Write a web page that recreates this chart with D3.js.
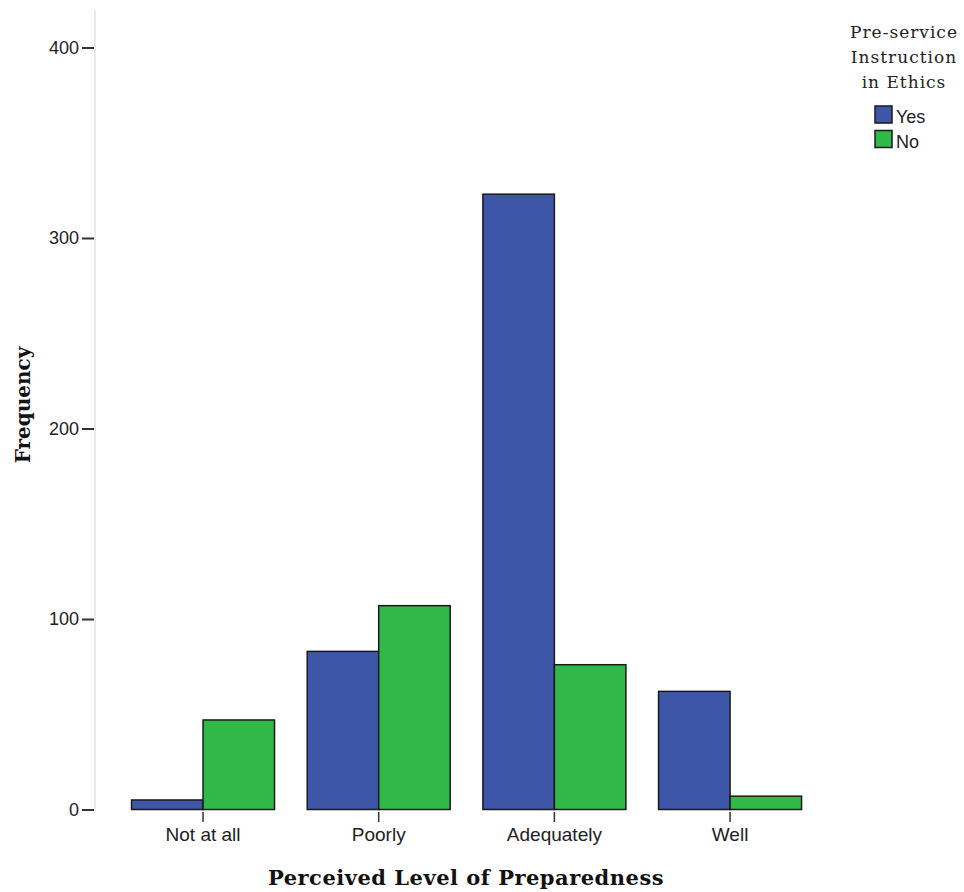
<!DOCTYPE html>
<html>
<head>
<meta charset="utf-8">
<script src="https://cdn.jsdelivr.net/npm/d3@7/dist/d3.min.js"></script>
<style>
  html, body { margin: 0; padding: 0; background: #fff; }
  svg { display: block; }
</style>
</head>
<body>
<svg id="chart" width="964" height="892"></svg>
<script>
const categories = ["Not at all", "Poorly", "Adequately", "Well"];
const seriesNames = ["Yes", "No"];
const yesValues = [5, 83, 323, 62];
const noValues = [47, 107, 76, 7];
const yTicks = [0, 100, 200, 300, 400];
const colors = ["#3d56a8", "#30b848"];
const titleX = "Perceived Level of Preparedness";
const titleY = "Frequency";
const legendTitle = ["Pre-service", "Instruction", "in Ethics"];

const svg = d3.select("#chart");
const y = d3.scaleLinear().domain([0, 400]).range([809.5, 47.5]);
const x = d3.scaleBand().domain(categories).range([115.2, 817.9]).paddingInner(0.186).paddingOuter(0.093);
const xs = d3.scaleBand().domain(seriesNames).range([0, x.bandwidth()]);
const color = d3.scaleOrdinal().domain(seriesNames).range(colors);

const data = categories.map((c, i) => ({ cat: c, vals: [
  { s: "Yes", v: yesValues[i] }, { s: "No", v: noValues[i] }] }));

// y axis line
svg.append("line").attr("x1", 95).attr("x2", 95).attr("y1", 10).attr("y2", 810)
  .attr("stroke", "#e2e2e2").attr("stroke-width", 1.5);

// y axis ticks + labels
const yAxis = d3.axisLeft(y).tickValues(yTicks).tickSize(12).tickPadding(3).tickFormat(d3.format("d"));
const gy = svg.append("g").attr("transform", "translate(94,0)").call(yAxis);
gy.select(".domain").remove();
gy.selectAll(".tick line").attr("stroke", "#333").attr("stroke-width", 2);
gy.selectAll(".tick text").attr("font-family", "'Liberation Sans', Arial, sans-serif")
  .attr("font-size", 18).attr("fill", "#222");

// bars
const groups = svg.append("g").selectAll("g").data(data).join("g")
  .attr("transform", d => `translate(${x(d.cat)},0)`);
groups.selectAll("rect").data(d => d.vals).join("rect")
  .attr("x", d => xs(d.s))
  .attr("width", xs.bandwidth())
  .attr("y", d => y(d.v))
  .attr("height", d => y(0) - y(d.v))
  .attr("fill", d => color(d.s))
  .attr("stroke", "#1a1a1a").attr("stroke-width", 1.5);

// x axis ticks + labels
const xAxis = d3.axisBottom(x).tickSize(10).tickPadding(6);
const gx = svg.append("g").attr("transform", "translate(0,812)").call(xAxis);
gx.select(".domain").remove();
gx.selectAll(".tick line").attr("stroke", "#333").attr("stroke-width", 1.5);
gx.selectAll(".tick text").attr("font-family", "'Liberation Sans', Arial, sans-serif")
  .attr("font-size", 19).attr("fill", "#222");

// axis titles
svg.append("text").attr("x", 466).attr("y", 885).attr("text-anchor", "middle")
  .attr("font-family", "'DejaVu Serif', serif").attr("font-weight", "bold").attr("font-size", 21)
  .attr("letter-spacing", 0.5).attr("fill", "#111").text(titleX);
svg.append("text").attr("transform", "translate(30,405) rotate(-90)").attr("text-anchor", "middle")
  .attr("font-family", "'DejaVu Serif', serif").attr("font-weight", "bold").attr("font-size", 20)
  .attr("fill", "#111").text(titleY);

// legend
const lg = svg.append("g");
lg.selectAll("text.lt").data(legendTitle).join("text").attr("class", "lt")
  .attr("x", 904).attr("y", (d, i) => 38 + i * 25).attr("text-anchor", "middle")
  .attr("font-family", "'DejaVu Serif', serif").attr("font-size", 17).attr("letter-spacing", 1)
  .attr("fill", "#222")
  .text(d => d);
const items = lg.selectAll("g.item").data(seriesNames).join("g").attr("class", "item")
  .attr("transform", (d, i) => `translate(875,${106 + i * 24.5})`);
items.append("rect").attr("width", 17).attr("height", 17)
  .attr("fill", d => color(d)).attr("stroke", "#1a1a1a").attr("stroke-width", 1.5);
items.append("text").attr("x", 21).attr("y", 17)
  .attr("font-family", "'Liberation Sans', Arial, sans-serif").attr("font-size", 18).attr("fill", "#222")
  .text(d => d);
</script>
</body>
</html>
